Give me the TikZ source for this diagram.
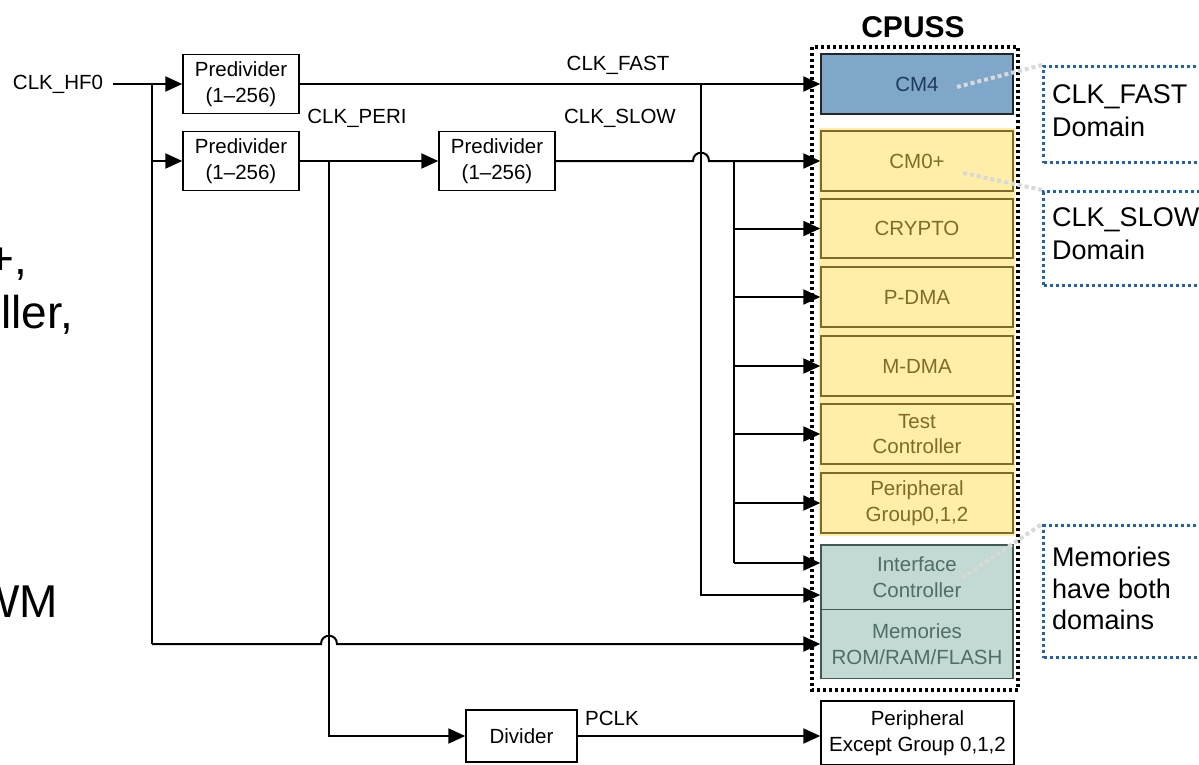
\documentclass[tikz,border=0pt]{standalone}
\usepackage{fontspec}
\setmainfont{Liberation Sans}
\usetikzlibrary{arrows.meta,calc}
\definecolor{cmblue}{HTML}{7FA7C9}
\definecolor{cmbluetxt}{HTML}{1F3B5C}
\definecolor{ylw}{HTML}{FFEEA8}
\definecolor{ylwdraw}{HTML}{7F6A2A}
\definecolor{ylwtxt}{HTML}{806C22}
\definecolor{tealfill}{HTML}{C2DAD3}
\definecolor{tealdraw}{HTML}{3F5A52}
\definecolor{tealtxt}{HTML}{4E6E67}
\definecolor{calloutblue}{HTML}{1F63A8}
\definecolor{leadgray}{HTML}{D9D9D9}
\begin{document}
\begin{tikzpicture}[x=1pt,y=-1pt,
  every node/.style={font=\fontsize{20.5pt}{25.5pt}\selectfont, inner sep=0pt, align=center},
  blk/.style={draw=black, line width=1.4pt, fill=white},
  cpubox/.style={line width=1.4pt, minimum width=192pt},
  ylwbox/.style={cpubox, fill=ylw, draw=ylwdraw, text=ylwtxt},
  tealbox/.style={cpubox, fill=tealfill, draw=tealdraw, text=tealtxt},
  wire/.style={line width=2pt},
  arr/.style={wire, -{Triangle[length=17pt,width=15pt]}},
  callout/.style={draw=calloutblue, line width=3pt, dash pattern=on 3pt off 3pt, anchor=north west, minimum width=190pt},
  calltext/.style={anchor=west, align=left, font=\fontsize{27pt}{33pt}\selectfont},
  leader/.style={draw=leadgray, line width=4pt, dash pattern=on 4pt off 3pt},
  bigtext/.style={anchor=base east, font=\fontsize{46pt}{50pt}\selectfont}
]
\useasboundingbox (0,0) rectangle (1199,765);
\fill[white] (0,0) rectangle (1199,765);
\clip (0,0) rectangle (1199,765);

% text cut off at the left edge, as in the reference
\node[bigtext] (lt1) at (27,274) {+,};
\node[bigtext] (lt2) at (73,328) {ller,};
\node[bigtext] (lt3) at (58,617) {WM};

% input and predividers
\node[inner xsep=10pt] (hf0) at (58,84) {CLK\_HF0};
\node[blk, minimum width=116pt, minimum height=59pt] (pre1) at (241,84) {Predivider\\(1–256)};
\node[blk, minimum width=116pt, minimum height=59pt] (pre2) at (241,161) {Predivider\\(1–256)};
\node[blk, minimum width=116pt, minimum height=59pt] (pre3) at (497,161) {Predivider\\(1–256)};
\node[blk, minimum width=111pt, minimum height=52pt] (div) at (521.5,736) {Divider};

% labels
\node (lfast) at (618,65) {CLK\_FAST};
\node (lslow) at (620,118) {CLK\_SLOW};
\node (lperi) at (357,118) {CLK\_PERI};
\node (lpclk) at (612,718) {PCLK};

% CPUSS
\node[font=\bfseries\fontsize{30pt}{36pt}\selectfont] (cpusslbl) at (913,27) {CPUSS};
\fill[ylw] (819,128) rectangle (1015,536);
\node[cpubox, fill=cmblue, draw=black!85, text=cmbluetxt, minimum height=60pt] (cm4) at (917,84) {CM4};
\node[ylwbox, minimum height=60pt] (cm0) at (917,161) {CM0+};
\node[ylwbox, minimum height=59pt] (crypto) at (917,228.5) {CRYPTO};
\node[ylwbox, minimum height=60pt] (pdma) at (917,297) {P-DMA};
\node[ylwbox, minimum height=60pt] (mdma) at (917,366) {M-DMA};
\node[ylwbox, minimum height=60pt] (test) at (917,434) {Test\\Controller};
\node[ylwbox, minimum height=60pt] (pg) at (917,503) {Peripheral\\Group0,1,2};
\node[tealbox, minimum height=64.5pt] (ifc) at (917,577.25) {Interface\\Controller};
\node[tealbox, minimum height=69pt] (mem) at (917,644) {Memories\\ROM/RAM/FLASH};
\node[blk, minimum width=193pt, minimum height=64pt] (perex) at (917.5,733) {Peripheral\\Except Group 0,1,2};

% connectors
\coordinate (j1) at (152,84);
\coordinate (jm) at (152,644);
\coordinate (jf) at (701,84);
\coordinate (jp) at (329,161);
\coordinate (js) at (734,161);
\coordinate (jsb) at (734,563);

\draw[arr] (hf0.east) -- (pre1.west);
\draw[arr] (j1) |- (pre2.west);
\draw[wire] (j1) -- (jm);
\draw[arr] (jm) -- (321,644) .. controls (321,633) and (337,633) .. (337,644) -- (mem.west);
\draw[arr] (pre1.east) -- (cm4.west);
\draw[arr] (jf) |- ($(ifc.west)+(0,17.75)$);
\draw[arr] (pre2.east) -- (pre3.west);
\draw[arr] (jp) |- (div.west);
\draw[arr] (pre3.east) -- (693,161) .. controls (693,150) and (709,150) .. (709,161) -- (cm0.west);
\draw[wire] (js) -- (jsb);
\foreach \n in {crypto,pdma,mdma,test,pg} \draw[arr] (js |- \n.west) -- (\n.west);
\draw[arr] (jsb) -- (jsb -| ifc.west);
\draw[arr] (div.east) -- (div.east -| perex.west);

% CPUSS dotted boundary
\draw[black, line width=3.5pt, dash pattern=on 3pt off 3pt] (812,47) rectangle (1018,690);

% callouts
\node[callout, minimum height=96pt] (cbfast) at (1042,65) {};
\node[callout, minimum height=94pt] (cbslow) at (1042,190) {};
\node[callout, minimum height=132pt] (cbmem) at (1042,524) {};
\node[calltext] (tfast) at (1052,110.5) {CLK\_FAST\\Domain};
\node[calltext] (tslow) at (1052,233.5) {CLK\_SLOW\\Domain};
\node[calltext, font=\fontsize{27pt}{31.5pt}\selectfont] (tmem) at (1052,588.5) {Memories\\have both\\domains};

% leaders
\coordinate (lf) at (957,87);
\coordinate (ls) at (963,173);
\coordinate (lm) at (962,578);
\draw[leader] (lf) -- (cbfast.north west);
\draw[leader] (ls) -- (cbslow.north west);
\draw[leader] (lm) -- (cbmem.north west);
\end{tikzpicture}
\end{document}
